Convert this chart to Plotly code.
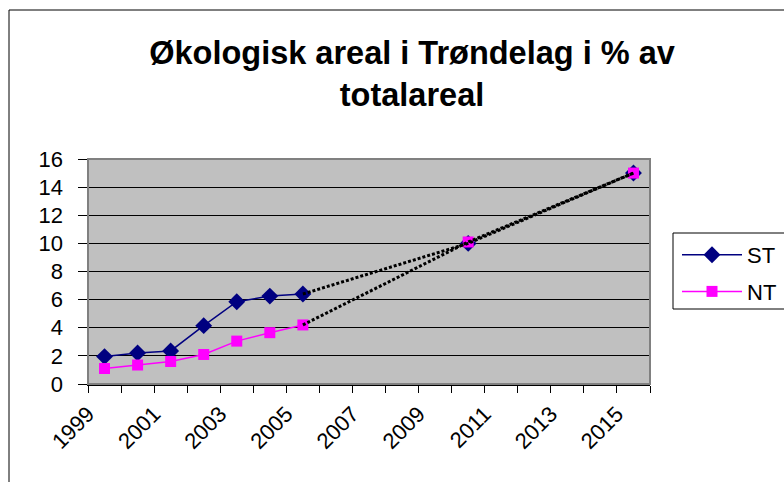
import plotly.graph_objects as go

# ---- data ----
years = [1999, 2000, 2001, 2002, 2003, 2004, 2005, 2010, 2015]
st_values = [1.95, 2.2, 2.35, 4.15, 5.85, 6.25, 6.4, 10.0, 15.0]
nt_values = [1.1, 1.35, 1.6, 2.1, 3.05, 3.65, 4.2, 10.1, 15.0]
n_observed = 7  # 1999-2005 observed, the rest projected
x_tick_labels = ["1999", "2001", "2003", "2005", "2007", "2009", "2011", "2013", "2015"]
y_tick_values = [0, 2, 4, 6, 8, 10, 12, 14, 16]
title_text = "Økologisk areal i Trøndelag i % av<br>totalareal"

FONT = "Liberation Sans, Arial, sans-serif"
ST_COLOR = "#000080"
NT_COLOR = "#FF00FF"

W, H = 784, 482
L, R, T, B = 88, 650, 159, 384  # plot area pixels

def px_x(p):
    return (p - L) / (R - L)

def px_y(p):
    return (B - p) / (B - T)

fig = go.Figure()

series = [
    ("ST", st_values, ST_COLOR, "diamond", 13),
    ("NT", nt_values, NT_COLOR, "square", 11),
]

# observed part: solid line + markers
for name, vals, color, sym, size in series:
    fig.add_trace(go.Scatter(
        x=years[:n_observed], y=vals[:n_observed], name=name, legendgroup=name,
        mode="lines+markers",
        line=dict(color=color, width=1.5),
        marker=dict(symbol=sym, size=size, color=color),
    ))

# projected markers
for name, vals, color, sym, size in series:
    fig.add_trace(go.Scatter(
        x=years[n_observed:], y=vals[n_observed:], name=name, legendgroup=name,
        mode="markers", showlegend=False,
        marker=dict(symbol=sym, size=size, color=color),
    ))

# projected dotted lines
for name, vals, color, sym, size in series:
    fig.add_trace(go.Scatter(
        x=years[n_observed - 1:], y=vals[n_observed - 1:], name=name, legendgroup=name,
        mode="lines", showlegend=False,
        line=dict(color="black", width=3, dash="3px,2px"),
    ))

first_year = int(x_tick_labels[0])
last_year = int(x_tick_labels[-1])
tickvals = [int(t) - 0.5 for t in x_tick_labels]

fig.update_layout(
    width=W, height=H,
    margin=dict(l=L, r=W - R, t=T, b=H - B, pad=0, autoexpand=False),
    paper_bgcolor="white",
    plot_bgcolor="#C0C0C0",
    font=dict(family=FONT, size=22, color="black"),
    title=dict(
        text=title_text,
        font=dict(family=FONT, size=32.5, color="black", weight="bold"),
        x=412 / W, xanchor="center",
        y=1 - 64 / H, yanchor="middle", yref="container",
    ),
    showlegend=True,
    legend=dict(
        x=px_x(677), xanchor="left", y=px_y(234), yanchor="top",
        bgcolor="rgba(0,0,0,0)", borderwidth=0,
        font=dict(family=FONT, size=22, color="black"),
        traceorder="grouped", tracegroupgap=5, itemwidth=60,
    ),
    xaxis=dict(
        range=[first_year - 0.5, last_year + 0.5],
        tickmode="array", tickvals=tickvals, ticktext=x_tick_labels,
        tickangle=-45,
        ticks="outside", ticklen=7, tickcolor="black", tickwidth=1,
        minor=dict(ticks="outside", ticklen=7, tickcolor="black", tickwidth=1,
                   dtick=1, tick0=first_year - 0.5, showgrid=False),
        showgrid=False, zeroline=False,
        showline=True, linecolor="black", linewidth=1.5,
        tickfont=dict(family=FONT, size=22, color="black"),
        fixedrange=True,
    ),
    yaxis=dict(
        range=[0, 16],
        tickmode="array", tickvals=y_tick_values,
        ticks="outside", ticklen=9, tickcolor="black", tickwidth=1,
        ticklabelstandoff=10,
        showgrid=True, gridcolor="black", gridwidth=1,
        zeroline=False,
        showline=True, linecolor="black", linewidth=1.5,
        tickfont=dict(family=FONT, size=22, color="black"),
        fixedrange=True,
    ),
    shapes=[
        # plot area border (gray)
        dict(type="rect", xref="paper", yref="paper", x0=0, x1=1, y0=0, y1=1,
             line=dict(color="#808080", width=2), layer="above"),
        # legend box
        dict(type="rect", xref="paper", yref="paper",
             x0=px_x(673), x1=px_x(800), y0=px_y(309), y1=px_y(233),
             line=dict(color="black", width=1), layer="above"),
        # outer chart border
        dict(type="rect", xref="paper", yref="paper",
             x0=px_x(9), x1=px_x(900), y0=px_y(600), y1=px_y(10),
             line=dict(color="black", width=1), layer="above"),
    ],
)

fig.write_html(
    "out.html",
    config={"displayModeBar": False, "staticPlot": True},
    post_script="document.body.style.margin='0';document.body.style.overflow='hidden';",
)
